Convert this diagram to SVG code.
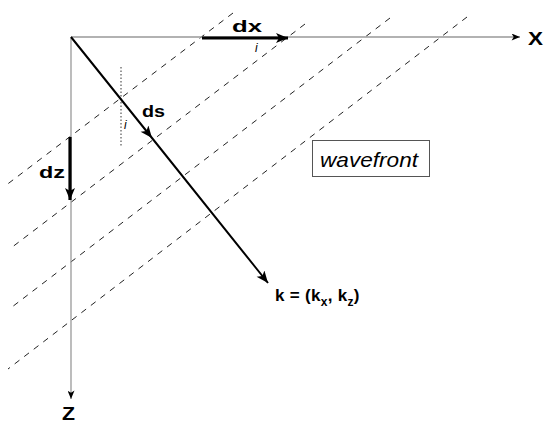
<svg xmlns="http://www.w3.org/2000/svg" width="544" height="423" viewBox="0 0 544 423">
<style>
.axis{stroke:#999;stroke-width:1.3;fill:none}
.wf{stroke:#222;stroke-width:1;fill:none;stroke-dasharray:6 6}
.lbl{font-family:"Liberation Sans",Arial,sans-serif;font-weight:bold;fill:#000}
.ital{font-family:"Liberation Sans",Arial,sans-serif;font-style:italic;fill:#000}
</style>
<defs>
<marker id="ah" viewBox="0 0 12 10" refX="12" refY="5" markerWidth="9" markerHeight="7" markerUnits="userSpaceOnUse" orient="auto"><path d="M0,0 L12,5 L0,10 L3,5 z" fill="#000"/></marker>
<marker id="ahk" viewBox="0 0 12 10" refX="12" refY="5" markerWidth="13" markerHeight="10" markerUnits="userSpaceOnUse" orient="auto"><path d="M0,0 L12,5 L0,10 L3,5 z" fill="#000"/></marker>
</defs>
<rect width="544" height="423" fill="#fff"/>
<g id="wavefronts">
<line class="wf" x1="233" y1="13" x2="5" y2="186"/>
<line class="wf" x1="305" y1="24" x2="11" y2="248"/>
<line class="wf" x1="390" y1="18" x2="12" y2="307"/>
<line class="wf" x1="467" y1="17" x2="8" y2="369"/>
<line x1="121" y1="67" x2="121" y2="147" stroke="#333" stroke-width="1" stroke-dasharray="1.5 2"/>
</g>
<g id="connectors">
<line class="axis" x1="71" y1="37" x2="520" y2="37" marker-end="url(#ah)"/>
<line class="axis" x1="71" y1="37" x2="71" y2="399" marker-end="url(#ah)"/>
<path d="M71,37 L152,138 L268,283" stroke="#000" stroke-width="2" fill="none" marker-mid="url(#ahk)" marker-end="url(#ahk)"/>
<line x1="202" y1="38" x2="288" y2="38" stroke="#000" stroke-width="3.2" marker-end="url(#ahk)"/>
<line x1="70" y1="137" x2="70" y2="200" stroke="#000" stroke-width="3.2" marker-end="url(#ahk)"/>
</g>
<g id="labels">
<text class="lbl" x="528" y="45" font-size="19" textLength="15" lengthAdjust="spacingAndGlyphs">X</text>
<text class="lbl" x="62" y="420" font-size="19" textLength="13" lengthAdjust="spacingAndGlyphs">Z</text>
<text class="lbl" x="232" y="32" font-size="17" textLength="30" lengthAdjust="spacingAndGlyphs">dx</text>
<text class="ital" x="255" y="52" font-size="12">i</text>
<text class="lbl" x="142" y="117" font-size="17" textLength="23" lengthAdjust="spacingAndGlyphs">ds</text>
<text class="ital" x="124" y="129" font-size="12">i</text>
<text class="lbl" x="39" y="178" font-size="17" textLength="26" lengthAdjust="spacingAndGlyphs">dz</text>
<text class="lbl" x="275" y="301" font-size="17" letter-spacing="0.3">k = (k<tspan font-size="12" dy="5">x</tspan><tspan dy="-5">, k</tspan><tspan font-size="12" dy="5">z</tspan><tspan dy="-5">)</tspan></text>
</g>
<g id="wavefront-box">
<rect x="312.5" y="140.5" width="117" height="36" fill="#fff" stroke="#555" stroke-width="1"/>
<text class="ital" x="320" y="167" font-size="21" textLength="98" lengthAdjust="spacingAndGlyphs">wavefront</text>
</g>
</svg>
